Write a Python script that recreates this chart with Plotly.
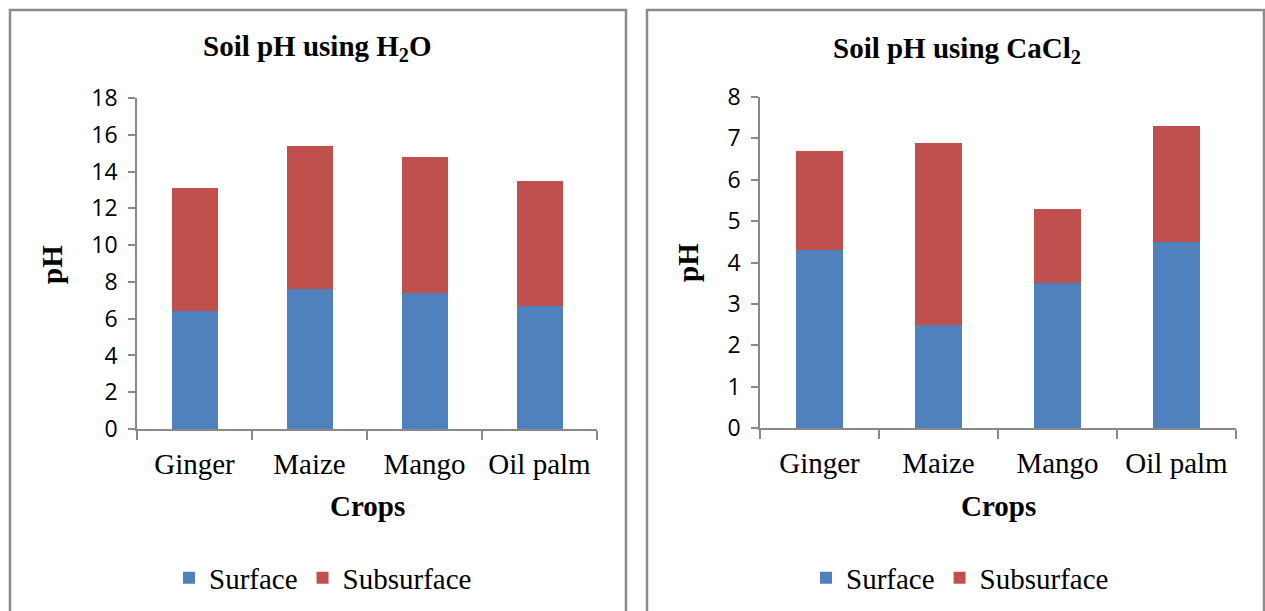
import plotly.graph_objects as go

crops = ["Ginger", "Maize", "Mango", "Oil palm"]
h2o_surface = [6.4, 7.6, 7.4, 6.7]
h2o_subsurface = [6.7, 7.8, 7.4, 6.8]
cacl2_surface = [4.3, 2.5, 3.5, 4.5]
cacl2_subsurface = [2.4, 4.4, 1.8, 2.8]
series_names = ["Surface", "Subsurface"]
colors = ["#4F81BD", "#C0504D"]

W, H = 1265, 611
def px(x): return x / W
def py(y): return 1 - y / H

serif = "Liberation Serif"
tickfont = dict(family="Open Sans", size=23, color="#000")

fig = go.Figure()
fig.add_trace(go.Bar(x=crops, y=h2o_surface, name=series_names[0], marker_color=colors[0],
                     width=0.4, xaxis="x", yaxis="y", legend="legend", marker_line_width=0))
fig.add_trace(go.Bar(x=crops, y=h2o_subsurface, name=series_names[1], marker_color=colors[1],
                     width=0.4, xaxis="x", yaxis="y", legend="legend", marker_line_width=0))
fig.add_trace(go.Bar(x=crops, y=cacl2_surface, name=series_names[0], marker_color=colors[0],
                     width=0.4, xaxis="x2", yaxis="y2", legend="legend2", marker_line_width=0))
fig.add_trace(go.Bar(x=crops, y=cacl2_subsurface, name=series_names[1], marker_color=colors[1],
                     width=0.4, xaxis="x2", yaxis="y2", legend="legend2", marker_line_width=0))

axcol = "#898989"
xcommon = dict(showline=True, linecolor=axcol, linewidth=1.5, ticks="outside", tickson="boundaries",
               ticklen=9, tickcolor=axcol, tickwidth=1.5, showgrid=False,
               tickfont=dict(family=serif, size=29, color="#000"), ticklabelstandoff=8)
ycommon = dict(showline=True, linecolor=axcol, linewidth=1.5, ticks="outside", ticklen=7,
               tickcolor=axcol, tickwidth=1.5, showgrid=False, zeroline=False,
               tickfont=tickfont, ticklabelstandoff=6)

fig.update_layout(
    width=W, height=H, margin=dict(l=0, r=0, t=0, b=0, autoexpand=False),
    paper_bgcolor="white", plot_bgcolor="white", barmode="stack", bargap=0.6,
    xaxis=dict(domain=[px(137), px(597)], anchor="y", **xcommon),
    yaxis=dict(domain=[py(429), py(98)], range=[0, 18], dtick=2, anchor="x", **ycommon),
    xaxis2=dict(domain=[px(760), px(1236)], anchor="y2", **xcommon),
    yaxis2=dict(domain=[py(428), py(97)], range=[0, 8], dtick=1, anchor="x2", **ycommon),
    legend=dict(orientation="h", x=px(323), y=py(578), xanchor="center", yanchor="middle",
                font=dict(family=serif, size=29, color="#000"), traceorder="normal",
                bgcolor="rgba(0,0,0,0)"),
    legend2=dict(orientation="h", x=px(960), y=py(578), xanchor="center", yanchor="middle",
                 font=dict(family=serif, size=29, color="#000"), traceorder="normal",
                 bgcolor="rgba(0,0,0,0)"),
    showlegend=True,
)

ann = [
    dict(text="<b>Soil pH using H<sub>2</sub>O</b>", x=px(317), y=py(48)),
    dict(text="<b>Soil pH using CaCl<sub>2</sub></b>", x=px(957), y=py(50)),
    dict(text="<b>Crops</b>", x=px(367), y=py(506)),
    dict(text="<b>Crops</b>", x=px(998), y=py(506)),
    dict(text="<b>pH</b>", x=px(52), y=py(265), textangle=-90),
    dict(text="<b>pH</b>", x=px(688), y=py(263), textangle=-90),
]
for a in ann:
    fig.add_annotation(xref="paper", yref="paper", showarrow=False, xanchor="center",
                       yanchor="middle", font=dict(family=serif, size=29, color="#000"), **a)

border = "#8C8C8C"
for x0, x1 in [(10, 626), (647, 1264)]:
    fig.add_shape(type="rect", xref="paper", yref="paper", x0=px(x0), x1=px(x1),
                  y0=py(10), y1=-0.1, line=dict(color=border, width=2.5), layer="above")

fig.write_html("out.html")
